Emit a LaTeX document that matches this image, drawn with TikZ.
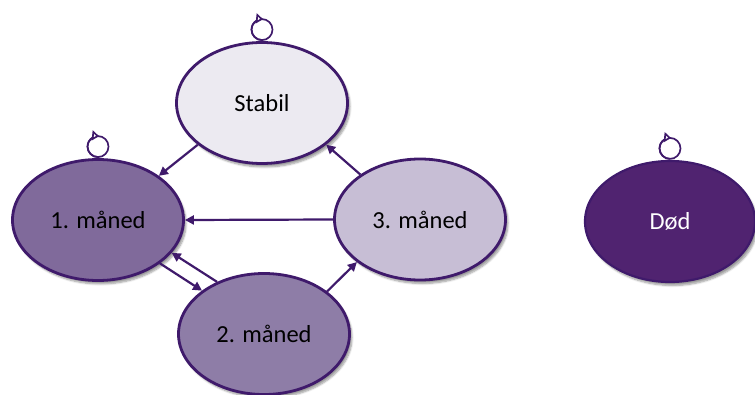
\documentclass[tikz,border=0pt]{standalone}
\usepackage{fontspec}
\setmainfont{Carlito}
\usetikzlibrary{shapes.geometric,arrows.meta,shadows.blur}
\definecolor{bord}{HTML}{3F1A6B}
\definecolor{cstab}{HTML}{ECEAF1}
\definecolor{cone}{HTML}{806A9B}
\definecolor{ctwo}{HTML}{8E7DA7}
\definecolor{cthree}{HTML}{C7BED5}
\definecolor{cdod}{HTML}{502370}
\tikzset{
  state/.style={ellipse, draw=bord, line width=2.8pt, minimum width=171pt, minimum height=121pt,
    inner sep=0pt, font=\fontsize{24.5}{28}\selectfont,
    blur shadow={shadow xshift=2.5pt, shadow yshift=-3.5pt, shadow blur steps=6, shadow opacity=40}},
  trans/.style={draw=bord, line width=2.2pt, -{Triangle[length=9pt,width=9pt]}},
  loopc/.style={draw=bord, line width=1.7pt},
  looptip/.style={draw=bord, line width=1.7pt, -{Triangle[open,fill=white,length=7pt,width=10pt]}}
}
\begin{document}
\begin{tikzpicture}[x=1pt,y=1pt]
\useasboundingbox (0,0) rectangle (755,394);
\node[state, fill=cstab] (stab) at (262,291) {Stabil};
\node[state, fill=cone] (m1) at (98,174) {1. måned};
\node[state, fill=ctwo] (m2) at (264,60) {2. måned};
\node[state, fill=cthree] (m3) at (420,174.5) {3. måned};
\node[state, fill=cdod, text=white, line width=2.2pt, minimum width=170pt] (dod) at (670,172.5) {Død};

\draw[trans] (stab.213) -- (m1.36);
\draw[trans] (m3.west) -- (m1.east);
\draw[trans] (m3.143.6) -- (stab.327);
\draw[trans] (m2.34.3) -- (m3.214.7);
\draw[trans] (m1.325.9) -- (m2.145.3);
\draw[trans] (m2.132.7) -- (m1.336);

\foreach \n in {stab,m1,dod}{
  \draw[loopc] ([yshift=1pt]\n.north) arc[start angle=-90, end angle=270, radius=10.5];
  \draw[looptip] ([yshift=1pt]\n.north) arc[start angle=-90, end angle=-276, radius=10.5];
}
\end{tikzpicture}
\end{document}
